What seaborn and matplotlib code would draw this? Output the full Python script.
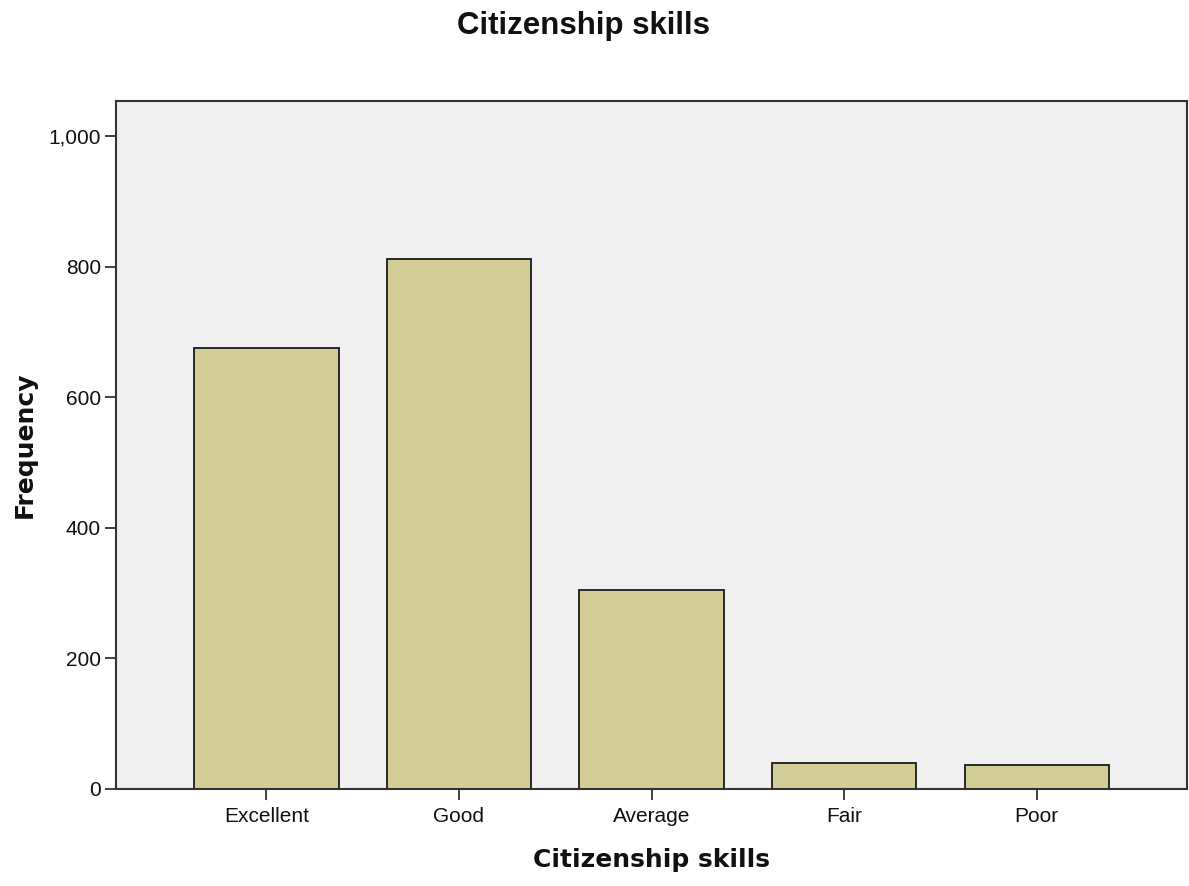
import matplotlib
matplotlib.use('Agg')
import matplotlib.pyplot as plt
import matplotlib.ticker as mticker
import pandas as pd
import seaborn as sns

# ----- Data -----

categories = ['Excellent', 'Good', 'Average', 'Fair', 'Poor']
frequency = [675, 812, 305, 40, 37]
y_ticks = [0, 200, 400, 600, 800, 1000]

df = pd.DataFrame({'skill': categories, 'freq': frequency})

# ----- Plot -----

sns.set_style('white')
plt.rcParams['font.family'] = ['Liberation Sans', 'DejaVu Sans']

fig = plt.figure(figsize = (11.89, 8.86), dpi = 100)
ax = fig.add_axes([0.0976, 0.1095, 0.9007, 0.7765])

sns.barplot(data = df, x = 'skill', y = 'freq', color = '#d3cd98', saturation = 1,
            width = 0.75, edgecolor = '#1a1a1a', linewidth = 1.3, ax = ax)

ax.set_facecolor('#f0f0f0')
ax.set_xlim(-0.78, 4.78)
ax.set_ylim(0, 1054)
ax.set_yticks(y_ticks)
ax.yaxis.set_major_formatter(mticker.FuncFormatter(lambda v, p: f'{int(v):,}'))

for s in ax.spines.values():
    s.set_color('#333333'); s.set_linewidth(1.5); s.set_visible(True)

ax.tick_params(axis = 'both', direction = 'out', length = 8, width = 1.3, color = '#333333',
               labelsize = 15, labelcolor = '#111111', left = True, bottom = True)
ax.tick_params(axis = 'x', pad = 5)
ax.tick_params(axis = 'y', pad = 3)

ax.set_xlabel('Citizenship skills', fontsize = 18, fontweight = 'bold', family = 'DejaVu Sans',
              color = '#111111', labelpad = 16)
ax.set_ylabel('Frequency', fontsize = 18, fontweight = 'bold', family = 'DejaVu Sans',
              color = '#111111', labelpad = 8)
fig.text(0.491, 0.971, 'Citizenship skills', fontsize = 22.5, fontweight = 'bold',
         color = '#111111', ha = 'center', va = 'center')

fig.savefig('out.png', dpi = 100)
